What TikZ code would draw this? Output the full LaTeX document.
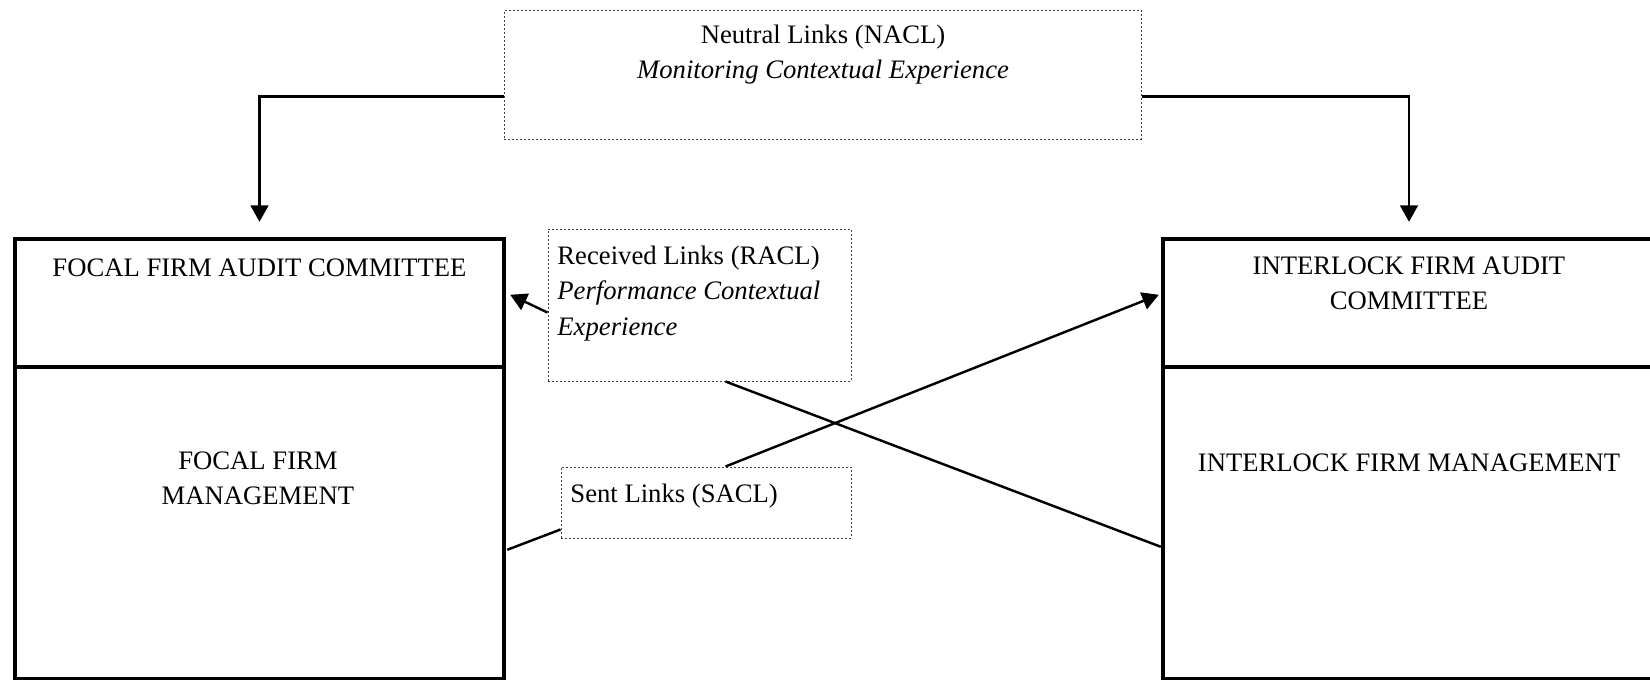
\documentclass[tikz,border=0pt]{standalone}
\usepackage{fontspec}
\setmainfont{Liberation Serif}
\usetikzlibrary{arrows.meta,calc,fit}
\tikzset{
  thickbox/.style={draw=black, line width=2pt, inner sep=0pt, rectangle},
  dotbox/.style={draw=black!75, line width=0.45pt, dash pattern=on 0.9pt off 0.9pt, inner sep=0pt, rectangle},
  link/.style={draw=black, line width=1.1pt},
  arrowlink/.style={link, -{Triangle[length=7.4pt,width=8pt]}},
  txt/.style={inner sep=0pt, anchor=base, font=\fontsize{12}{16}\selectfont},
}
\begin{document}
\begin{tikzpicture}[x=0.45pt, y=-0.45pt]
\clip (0,0) rectangle (1650,679);
% boxes
\node[dotbox, fit={(504,10.5)(1141,139)}] (nacl) {};
\node[thickbox, fit={(15,239)(504,367)}] (fa) {};
\node[thickbox, fit={(15,367)(504,679)}] (fm) {};
\node[thickbox, fit={(1163,239)(1655,367)}] (ia) {};
\node[thickbox, fit={(1163,367)(1655,679)}] (im) {};
\node[dotbox, fit={(548,229)(851,381)}] (racl) {};
\node[dotbox, fit={(561,467)(851,538)}] (sacl) {};
% texts
\node[txt] (tnacl) at (823,43) {\begin{tabular}[t]{@{}c@{}}Neutral Links (NACL)\\\textit{Monitoring Contextual Experience}\end{tabular}};
\node[txt] (tfa) at (259.5,276) {FOCAL FIRM AUDIT COMMITTEE};
\node[txt] (tfm) at (258,469) {\begin{tabular}[t]{@{}c@{}}FOCAL FIRM\\MANAGEMENT\end{tabular}};
\node[txt] (tia) at (1409,274) {\begin{tabular}[t]{@{}c@{}}INTERLOCK FIRM AUDIT\\COMMITTEE\end{tabular}};
\node[txt] (tim) at (1409,471) {INTERLOCK FIRM MANAGEMENT};
\node[txt, anchor=base west] (tracl) at (557,264) {\begin{tabular}[t]{@{}l@{}}Received Links (RACL)\\\textit{Performance Contextual}\\\textit{Experience}\end{tabular}};
\node[txt, anchor=base west] (tsacl) at (570,502) {Sent Links (SACL)};
% connectors
\draw[arrowlink, shorten >=6.75pt] ($(nacl.north west)+(0,86.5)$) -| (fa.north);
\draw[arrowlink, shorten >=6.75pt] ($(nacl.north east)+(0,86.5)$) -| (ia.north);
\draw[arrowlink] ($(racl.north west)+(0,84)$) -- ($(fa.north east)+(4,58)$);
\draw[link] ($(racl.south west)+(178,0)$) -- ($(im.north west)+(0,182)$);
\draw[arrowlink] ($(sacl.north west)+(165,0)$) -- ($(ia.north west)+(-2,58)$);
\draw[link] ($(sacl.north west)+(0,63)$) -- ($(fm.north east)+(1,185)$);
\end{tikzpicture}
\end{document}
